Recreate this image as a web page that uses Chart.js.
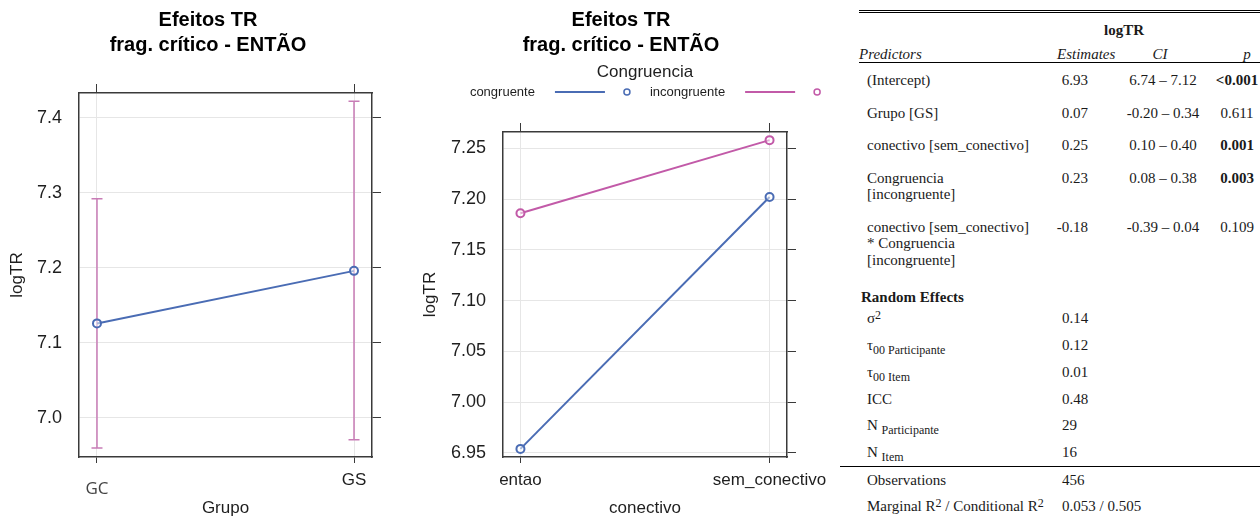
<!DOCTYPE html>
<html>
<head>
<meta charset="utf-8">
<script src="https://cdn.jsdelivr.net/npm/chart.js@4.4.0/dist/chart.umd.min.js"></script>
<style>
body { margin: 0; background: #fff; width: 1260px; height: 519px; overflow: hidden; position: relative; }
.chartbox { position: absolute; top: 0; width: 420px; height: 519px; }
#box1 { left: 0; }
#box2 { left: 420px; }
#tbl { position: absolute; left: 859px; top: 10px; width: 401px; table-layout: fixed; border-collapse: collapse;
  font-family: "Liberation Serif", "Times New Roman", serif; font-size: 15px; line-height: 16.5px; color: #1a1a1a;
  border-top: 3px double #000; }
#tbl td { padding: 0; vertical-align: top; white-space: nowrap; overflow: visible; }
#tbl sub, #tbl sup { font-size: 12px; line-height: 0; position: relative; vertical-align: baseline; }
#tbl sub { top: 4px; }
#tbl sup { top: -4px; }
#tbl .head1 td { padding-top: 8.75px; padding-bottom: 7.5px; }
#tbl .head2 td { border-bottom: 1px solid #000; font-style: italic; }
#tbl .fixed td { padding-top: 9px; padding-bottom: 7px; }
#tbl .re td { padding-top: 13.5px; padding-bottom: 0; font-weight: bold; padding-left: 2px; }
#tbl .rnd td { padding-top: 5px; padding-bottom: 5.3px; }
#tbl .obs td { padding-top: 5.25px; padding-bottom: 4.25px; }
#tbl .obs.first td { border-top: 1px solid #000; }
#tbl .obs.first td:first-child { position: relative; }
#tbl .obs.first td:first-child::before { content: ""; position: absolute; left: -19px; top: -1px; width: 19px; border-top: 1px solid #000; }
#tbl .lab { padding-left: 8px; }
#tbl .est { text-align: right; padding-right: 18px; }
#tbl .ci { text-align: center; padding-left: 6px; }
#tbl .pv { text-align: center; }
#tbl .val { padding-left: 12px; }
</style>
</head>
<body>
<div class="chartbox" id="box1"><canvas id="chart1" width="420" height="519"></canvas></div>
<div class="chartbox" id="box2"><canvas id="chart2" width="420" height="519"></canvas></div>
<table id="tbl">
  <colgroup><col style="width:191px"><col style="width:56px"><col style="width:108px"><col style="width:46px"></colgroup>
  <tbody id="tblBody"></tbody>
</table>
<script>
// efeito de Grupo
var grupos = ["GC", "GS"];
var grupoFit = [7.126, 7.196];
var grupoLower = [6.960, 6.971];
var grupoUpper = [7.292, 7.422];
var grupoTicks = [7.0, 7.1, 7.2, 7.3, 7.4];

// conectivo * Congruencia
var conectivos = ["entao", "sem_conectivo"];
var congruencias = ["congruente", "incongruente"];
var congruenteFit = [6.954, 7.202];
var incongruenteFit = [7.186, 7.258];
var conectivoTicks = [6.95, 7.00, 7.05, 7.10, 7.15, 7.20, 7.25];

// tabela do modelo
var predictors = ["(Intercept)", "Grupo [GS]", "conectivo [sem_conectivo]", "Congruencia<br>[incongruente]", "conectivo [sem_conectivo]<br>* Congruencia<br>[incongruente]"];
var estimates = ["6.93", "0.07", "0.25", "0.23", "-0.18"];
var ciText = ["6.74 – 7.12", "-0.20 – 0.34", "0.10 – 0.40", "0.08 – 0.38", "-0.39 – 0.04"];
var pValues = ["&lt;0.001", "0.611", "0.001", "0.003", "0.109"];
var pSignif = [true, false, true, true, false];
var randomLabels = ["σ<sup>2</sup>", "τ<sub>00 Participante</sub>", "τ<sub>00 Item</sub>", "ICC", "N <sub>Participante</sub>", "N <sub>Item</sub>"];
var randomValues = ["0.14", "0.12", "0.01", "0.48", "29", "16"];
var fitLabels = ["Observations", "Marginal R<sup>2</sup> / Conditional R<sup>2</sup>"];
var fitValues = ["456", "0.053 / 0.505"];

var azul = "#4a6cb4";
var rosa = "#c25aa8";
var rosaCI = "#c87cb6";
var grade = "#e6e6e6";
var moldura = "#3a3a3a";
var texto = "#1e1e1e";

Chart.defaults.font.family = '"Liberation Sans", Arial, sans-serif';
Chart.defaults.color = texto;

var errorBars = {
    id: "errorBars",
    beforeDatasetsDraw(chart, args, opts) {
        if (!opts.lower) return;
        var ctx = chart.ctx, x = chart.scales.x, y = chart.scales.y;
        ctx.save();
        ctx.strokeStyle = opts.color;
        ctx.lineWidth = 1.5;
        opts.lower.forEach(function (lo, i) {
            var px = x.getPixelForValue(i);
            var y1 = y.getPixelForValue(lo);
            var y2 = y.getPixelForValue(opts.upper[i]);
            ctx.beginPath();
            ctx.moveTo(px, y1); ctx.lineTo(px, y2);
            ctx.moveTo(px - 5.5, y1); ctx.lineTo(px + 5.5, y1);
            ctx.moveTo(px - 5.5, y2); ctx.lineTo(px + 5.5, y2);
            ctx.stroke();
        });
        ctx.restore();
    }
};

// legenda no estilo lattice: texto, linha, ponto
var latticeKey = {
    id: "latticeKey",
    afterDraw(chart, args, opts) {
        if (!opts.title) return;
        var ctx = chart.ctx, area = chart.chartArea;
        var cx = (area.left + area.right) / 2;
        ctx.save();
        ctx.textBaseline = "middle";
        ctx.fillStyle = texto;
        ctx.font = '17px "Liberation Sans", Arial, sans-serif';
        ctx.textAlign = "center";
        ctx.fillText(opts.title, cx, opts.titleY);
        ctx.font = '13px "Liberation Sans", Arial, sans-serif';
        ctx.textAlign = "left";
        var ds = chart.data.datasets;
        var widths = ds.map(function (d) { return ctx.measureText(d.label).width + 92; });
        var total = widths.reduce(function (a, b) { return a + b; }, 0) + 23 * (ds.length - 1) + 3;
        var x0 = cx - total / 2;
        ds.forEach(function (d, i) {
            var tw = widths[i] - 92;
            ctx.fillStyle = texto;
            ctx.fillText(d.label, x0, opts.rowY);
            ctx.strokeStyle = d.borderColor;
            ctx.lineWidth = 2;
            ctx.beginPath();
            ctx.moveTo(x0 + tw + 20, opts.rowY);
            ctx.lineTo(x0 + tw + 70, opts.rowY);
            ctx.stroke();
            ctx.lineWidth = 1.5;
            ctx.beginPath();
            ctx.arc(x0 + tw + 92, opts.rowY, 3, 0, 2 * Math.PI);
            ctx.stroke();
            x0 += widths[i] + 23;
        });
        ctx.restore();
    }
};

function frameScales(cats, yMin, yMax, yTicks, digits, xTitle, yWidth, y2Width, yTitlePad) {
    var catTicks = function (s) { s.ticks = cats.map(function (c, i) { return { value: i }; }); };
    var valTicks = function (s) { s.ticks = yTicks.map(function (v) { return { value: v }; }); };
    var border = { display: true, color: moldura, width: 1.5 };
    return {
        x: {
            type: "linear", position: "bottom", min: -0.07, max: 1.07, bounds: "data",
            afterBuildTicks: catTicks,
            afterFit: function (s) { s.height = 62; },
            grid: { color: grade, lineWidth: 1, drawTicks: true, tickLength: 6, tickColor: moldura, tickWidth: 1 },
            border: border,
            ticks: {
                autoSkip: false, maxRotation: 0, padding: 7,
                callback: function (v) { return cats[v]; },
                font: { size: 17 }
            },
            title: { display: true, text: xTitle, font: { size: 17 }, padding: { top: 0, bottom: 0 } }
        },
        x2: {
            type: "linear", position: "top", display: true, min: -0.07, max: 1.07, bounds: "data",
            afterBuildTicks: catTicks,
            afterFit: function (s) { s.height = 9; },
            grid: { drawOnChartArea: false, tickLength: 9, tickColor: moldura, tickWidth: 1 },
            border: border,
            ticks: { display: false }
        },
        y: {
            type: "linear", position: "left", min: yMin, max: yMax, bounds: "data",
            afterBuildTicks: valTicks,
            afterFit: function (s) { s.width = yWidth; },
            grid: { color: grade, lineWidth: 1, drawTicks: false },
            border: border,
            ticks: { padding: 17, callback: function (v) { return v.toFixed(digits); }, font: { size: 18 } },
            title: { display: true, text: "logTR", font: { size: 17 }, padding: { top: yTitlePad, bottom: 0 } }
        },
        y2: {
            type: "linear", position: "right", display: true, min: yMin, max: yMax, bounds: "data",
            afterBuildTicks: valTicks,
            afterFit: function (s) { s.width = y2Width; },
            grid: { drawOnChartArea: false, tickLength: 9, tickColor: moldura, tickWidth: 1 },
            border: border,
            ticks: { display: false }
        }
    };
}

function titleOpts(bottom) {
    return {
        display: true,
        text: ["Efeitos TR", "frag. crítico - ENTÃO"],
        color: "#000",
        font: { size: 20, weight: "bold", lineHeight: 1.25 },
        padding: { top: 7.5, bottom: bottom }
    };
}

function pontos(vals) {
    return vals.map(function (v, i) { return { x: i, y: v }; });
}

var scales1 = frameScales(grupos, 6.948, 7.433, grupoTicks, 1, "Grupo", 75, 40, 3);
scales1.x.ticks.font = function (ctx) {
    return ctx.index === 0 ? { family: '"Open Sans", sans-serif', size: 17, lineHeight: "38px" } : { size: 17 };
};
scales1.x.ticks.color = function (ctx) { return ctx.index === 0 ? "#444" : texto; };

var chart1 = new Chart(document.getElementById("chart1"), {
    type: "line",
    data: {
        datasets: [{
            label: "logTR",
            data: pontos(grupoFit),
            borderColor: azul,
            borderWidth: 2,
            pointRadius: 4,
            pointBorderWidth: 2,
            pointBorderColor: azul,
            pointBackgroundColor: "rgba(255,255,255,0.5)",
            clip: false
        }]
    },
    options: {
        responsive: false,
        animation: false,
        devicePixelRatio: 1,
        layout: { padding: { left: 4, right: 8, top: 0, bottom: 0 } },
        scales: scales1,
        plugins: {
            legend: { display: false },
            tooltip: { enabled: false },
            title: titleOpts(26.5),
            errorBars: { lower: grupoLower, upper: grupoUpper, color: rosaCI }
        }
    },
    plugins: [errorBars]
});

var chart2 = new Chart(document.getElementById("chart2"), {
    type: "line",
    data: {
        datasets: [{
            label: congruencias[0],
            data: pontos(congruenteFit),
            borderColor: azul,
            borderWidth: 2,
            pointRadius: 4,
            pointBorderWidth: 2,
            pointBorderColor: azul,
            pointBackgroundColor: "rgba(255,255,255,0.5)",
            clip: false
        }, {
            label: congruencias[1],
            data: pontos(incongruenteFit),
            borderColor: rosa,
            borderWidth: 2,
            pointRadius: 4,
            pointBorderWidth: 2,
            pointBorderColor: rosa,
            pointBackgroundColor: "rgba(255,255,255,0.5)",
            clip: false
        }]
    },
    options: {
        responsive: false,
        animation: false,
        devicePixelRatio: 1,
        layout: { padding: { left: 0, right: 18, top: 0, bottom: 0 } },
        scales: frameScales(conectivos, 6.946, 7.266, conectivoTicks, 2, "conectivo", 83, 35, 0),
        plugins: {
            legend: { display: false },
            tooltip: { enabled: false },
            title: titleOpts(65.5),
            latticeKey: { title: "Congruencia", titleY: 72, rowY: 92 }
        }
    },
    plugins: [latticeKey]
});

// tabela
var body = document.getElementById("tblBody");
var html = "";
html += '<tr class="head1"><td></td><td colspan="3" style="text-align:center;font-weight:bold;padding-right:62px">logTR</td></tr>';
html += '<tr class="head2"><td>Predictors</td><td style="padding-left:7px">Estimates</td><td style="text-align:center">CI</td><td style="text-align:center;padding-left:20px">p</td></tr>';
predictors.forEach(function (p, i) {
    html += '<tr class="fixed"><td class="lab">' + p + '</td><td class="est">' + estimates[i] + '</td><td class="ci">' + ciText[i] +
        '</td><td class="pv"' + (pSignif[i] ? ' style="font-weight:bold"' : '') + '>' + pValues[i] + '</td></tr>';
});
html += '<tr class="re"><td colspan="4">Random Effects</td></tr>';
randomLabels.forEach(function (r, i) {
    html += '<tr class="rnd"><td class="lab">' + r + '</td><td colspan="3" class="val">' + randomValues[i] + '</td></tr>';
});
fitLabels.forEach(function (f, i) {
    html += '<tr class="obs' + (i === 0 ? ' first' : '') + '"><td class="lab">' + f + '</td><td colspan="3" class="val">' + fitValues[i] + '</td></tr>';
});
body.innerHTML = html;
</script>
</body>
</html>
